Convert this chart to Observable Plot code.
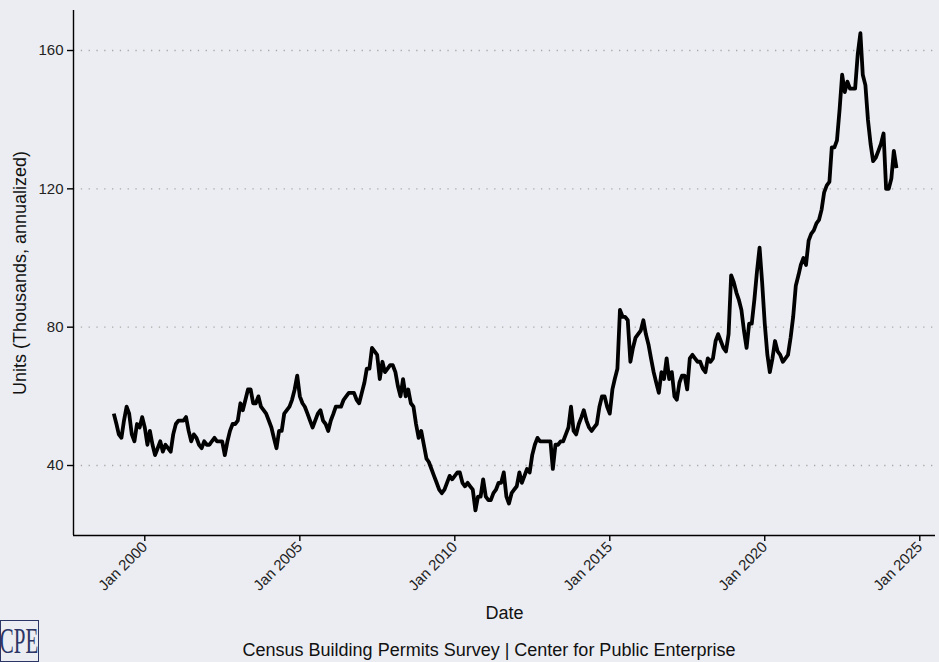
<!DOCTYPE html>
<html><head><meta charset="utf-8">
<script src="https://cdn.jsdelivr.net/npm/d3@7"></script>
<script src="https://cdn.jsdelivr.net/npm/@observablehq/plot@0.6"></script>
<style>
html,body{margin:0;padding:0;background:#ECEDF2;}
#wrap{position:relative;width:939px;height:662px;overflow:hidden;background:#ECEDF2;}
#caption{position:absolute;left:489px;top:640px;transform:translateX(-50%);white-space:nowrap;font:18px "Liberation Sans",Arial,sans-serif;color:#111;}
#logo{position:absolute;left:0;top:620px;width:37px;height:40px;border:1.5px solid #2b3566;color:#2b3566;font:35px "Liberation Serif","DejaVu Serif",serif;line-height:42px;text-align:center;overflow:hidden;}
#logo span{display:inline-block;transform:scaleX(0.6);transform-origin:center;margin-left:-20px;margin-right:-20px;}
</style></head>
<body><div id="wrap"><div id="chart"></div>
<div id="logo"><span>CPE</span></div>
<div id="caption">Census Building Permits Survey | Center for Public Enterprise</div>
</div>
<script>
const startYear = 1999;
const y1999 = [55, 52, 49, 48, 53, 57, 55, 49, 47, 52, 51, 54];
const y2000 = [51, 46, 50, 46, 43, 45, 47, 44, 46, 45, 44, 49];
const y2001 = [52, 53, 53, 53, 54, 50, 47, 49, 48, 46, 45, 47];
const y2002 = [46, 46, 47, 48, 47, 47, 47, 43, 47, 50, 52, 52];
const y2003 = [53, 58, 56, 59, 62, 62, 58, 58, 60, 57, 56, 55];
const y2004 = [53, 51, 48, 45, 50, 50, 55, 56, 57, 59, 62, 66];
const y2005 = [60, 58, 57, 55, 53, 51, 53, 55, 56, 53, 52, 50];
const y2006 = [53, 55, 57, 57, 57, 59, 60, 61, 61, 61, 59, 58];
const y2007 = [61, 64, 68, 68, 74, 73, 72, 65, 70, 67, 68, 69];
const y2008 = [69, 67, 63, 60, 65, 60, 62, 58, 57, 52, 48, 50];
const y2009 = [46, 42, 41, 39, 37, 35, 33, 32, 33, 35, 37, 36];
const y2010 = [37, 38, 38, 35, 34, 35, 34, 33, 27, 31, 31, 36];
const y2011 = [31, 30, 30, 32, 33, 35, 35, 38, 31, 29, 32, 33];
const y2012 = [34, 38, 35, 37, 39, 38, 43, 46, 48, 47, 47, 47];
const y2013 = [47, 47, 39, 46, 46, 47, 47, 49, 51, 57, 50, 49];
const y2014 = [52, 54, 56, 53, 51, 50, 51, 52, 57, 60, 60, 57];
const y2015 = [55, 62, 65, 68, 85, 83, 83, 82, 70, 74, 77, 78];
const y2016 = [79, 82, 78, 75, 71, 67, 64, 61, 67, 65, 71, 65];
const y2017 = [67, 60, 59, 64, 66, 66, 62, 71, 72, 71, 70, 70];
const y2018 = [68, 67, 71, 70, 71, 76, 78, 76, 74, 73, 78, 95];
const y2019 = [93, 90, 88, 85, 79, 74, 81, 81, 88, 96, 103, 93];
const y2020 = [81, 72, 67, 71, 76, 73, 72, 70, 71, 72, 77, 83];
const y2021 = [92, 95, 98, 100, 98, 105, 107, 108, 110, 111, 114, 119];
const y2022 = [121, 122, 132, 132, 134, 143, 153, 148, 151, 149, 149, 149];
const y2023 = [159, 165, 153, 150, 140, 133, 128, 129, 131, 133, 136, 120];
const y2024 = [120, 123, 131, 126];

const yTicks = [40, 80, 120, 160];
const xTickYears = [2000, 2005, 2010, 2015, 2020, 2025];

const units = [].concat(y1999, y2000, y2001, y2002, y2003, y2004, y2005, y2006, y2007, y2008,
  y2009, y2010, y2011, y2012, y2013, y2014, y2015, y2016, y2017, y2018, y2019, y2020,
  y2021, y2022, y2023, y2024);
const data = units.map((v, i) => ({date: new Date(Date.UTC(startYear, i, 1)), units: v}));

const xDomain = [new Date(Date.UTC(1997, 8, 13)), new Date(Date.UTC(2025, 6, 5))];
const yDomain = [19.76, 171.57];
const xTicks = xTickYears.map(y => new Date(Date.UTC(y, 0, 1)));

const chart = Plot.plot({
  width: 939, height: 662,
  marginLeft: 73, marginRight: 4, marginTop: 10, marginBottom: 127,
  style: {background: "transparent", fontFamily: "'Liberation Sans', Arial, sans-serif", fontSize: "15px", color: "#222", overflow: "visible"},
  x: {type: "utc", domain: xDomain},
  y: {domain: yDomain},
  marks: [
    Plot.ruleY(yTicks, {stroke: "#a9a9a9", strokeWidth: 1.3, strokeDasharray: "1.3,6.5"}),
    Plot.line(data, {x: "date", y: "units", stroke: "black", strokeWidth: 3.8, strokeLinejoin: "round", strokeLinecap: "butt"}),
    Plot.ruleX([xDomain[0]], {stroke: "black", strokeWidth: 1.4}),
    Plot.ruleY([yDomain[0]], {stroke: "black", strokeWidth: 1.4}),
    Plot.axisY({ticks: yTicks, tickSize: 6, tickPadding: 4, label: null, fontSize: 15, stroke: "black", strokeWidth: 1.4}),
    Plot.axisX({ticks: xTicks, tickFormat: d3.utcFormat("Jan %Y"), tickRotate: -45, tickSize: 6, tickPadding: 3, label: null, fontSize: 15, stroke: "black", strokeWidth: 1.4}),
    Plot.text(["Date"], {frameAnchor: "bottom", dy: 83, fontSize: 18, fill: "#111"}),
    Plot.text(["Units (Thousands, annualized)"], {frameAnchor: "left", textAnchor: "middle", dx: -53, rotate: -90, fontSize: 18, fill: "#111"})
  ]
});
document.getElementById("chart").appendChild(chart);
</script>
</body></html>
